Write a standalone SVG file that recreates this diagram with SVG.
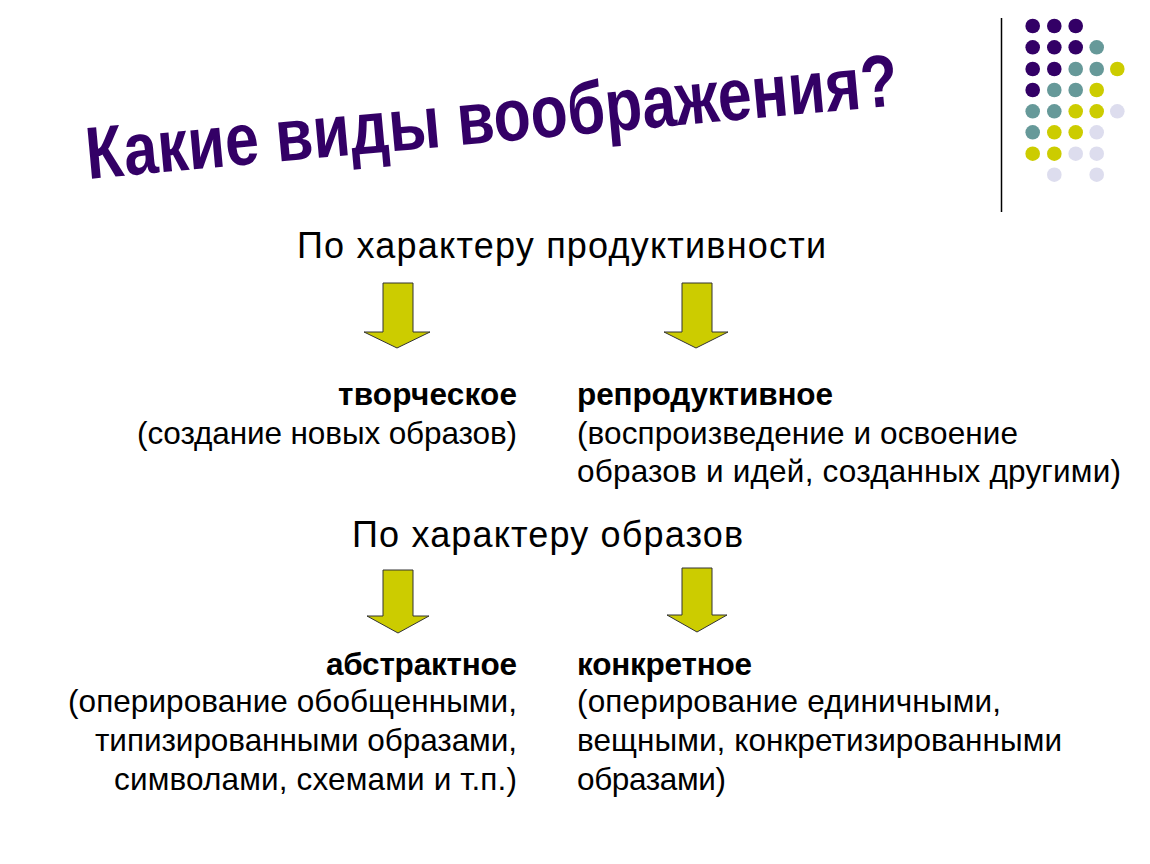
<svg xmlns="http://www.w3.org/2000/svg" width="1150" height="864" viewBox="0 0 1150 864">
<style>
.t{font-family:"Liberation Sans",Arial,sans-serif;fill:#000;font-size:31.5px}
.b{font-weight:bold}
.h{font-size:36px}
.arr{fill:#CCCC00;stroke:#333;stroke-width:1}
.p{fill:#330066}.g{fill:#669999}.y{fill:#CCCC00}.l{fill:#DDDDEE}
</style>
<rect width="1150" height="864" fill="#fff"/>
<g id="decor">
<line x1="1001.5" y1="18" x2="1001.5" y2="212" stroke="#000" stroke-width="1.5"/>
<g id="dots">
<circle class="p" cx="1032.7" cy="26" r="7.3"/><circle class="p" cx="1054.3" cy="26" r="7.3"/><circle class="p" cx="1075.7" cy="26" r="7.3"/>
<circle class="p" cx="1032.7" cy="47.3" r="7.3"/><circle class="p" cx="1054.3" cy="47.3" r="7.3"/><circle class="p" cx="1075.7" cy="47.3" r="7.3"/><circle class="g" cx="1096.7" cy="47.3" r="7.3"/>
<circle class="p" cx="1032.7" cy="69" r="7.3"/><circle class="p" cx="1054.3" cy="69" r="7.3"/><circle class="g" cx="1075.7" cy="69" r="7.3"/><circle class="g" cx="1096.7" cy="69" r="7.3"/><circle class="y" cx="1117.3" cy="69" r="7.3"/>
<circle class="p" cx="1032.7" cy="90" r="7.3"/><circle class="g" cx="1054.3" cy="90" r="7.3"/><circle class="g" cx="1075.7" cy="90" r="7.3"/><circle class="y" cx="1096.7" cy="90" r="7.3"/>
<circle class="g" cx="1032.7" cy="111.3" r="7.3"/><circle class="g" cx="1054.3" cy="111.3" r="7.3"/><circle class="y" cx="1075.7" cy="111.3" r="7.3"/><circle class="y" cx="1096.7" cy="111.3" r="7.3"/><circle class="l" cx="1117.3" cy="111.3" r="7.3"/>
<circle class="g" cx="1032.7" cy="132.3" r="7.3"/><circle class="y" cx="1054.3" cy="132.3" r="7.3"/><circle class="y" cx="1075.7" cy="132.3" r="7.3"/><circle class="l" cx="1096.7" cy="132.3" r="7.3"/>
<circle class="y" cx="1032.7" cy="153.7" r="7.3"/><circle class="y" cx="1054.3" cy="153.7" r="7.3"/><circle class="l" cx="1075.7" cy="153.7" r="7.3"/><circle class="l" cx="1096.7" cy="153.7" r="7.3"/>
<circle class="l" cx="1054.3" cy="174.7" r="7.3"/><circle class="l" cx="1096.7" cy="174.7" r="7.3"/>
</g>
</g>
<g id="title">
<text x="88" y="179" transform="rotate(-5.2 88 179)" font-family="Liberation Sans, Arial, sans-serif" font-weight="bold" font-size="74" fill="#330066" textLength="815" lengthAdjust="spacingAndGlyphs">Какие виды воображения?</text>
</g>
<g id="node-productivity">
<text class="t h" x="297" y="258" textLength="529" lengthAdjust="spacing">По характеру продуктивности</text>
</g>
<g id="connectors">
<path class="arr" d="M383 283 H413 V332 H430 L397 348 L364 332 H383 Z"/>
<path class="arr" d="M682 283 H712 V332 H728 L696 348 L664 332 H682 Z"/>
<path class="arr" d="M383 570 H413 V616 H429 L398 633 L367 616 H383 Z"/>
<path class="arr" d="M682 568 H712 V615 H727 L697 632 L667 615 H682 Z"/>
</g>
<g id="node-creative">
<text class="t b" x="338" y="405" textLength="179" lengthAdjust="spacing">творческое</text>
<text class="t" x="137" y="444" textLength="380" lengthAdjust="spacing">(создание новых образов)</text>
</g>
<g id="node-reproductive">
<text class="t b" x="577" y="405" textLength="256" lengthAdjust="spacing">репродуктивное</text>
<text class="t" x="577" y="444" textLength="441" lengthAdjust="spacing">(воспроизведение и освоение</text>
<text class="t" x="577" y="482" textLength="544" lengthAdjust="spacing">образов и идей, созданных другими)</text>
</g>
<g id="node-images">
<text class="t h" x="352" y="547" textLength="391" lengthAdjust="spacing">По характеру образов</text>
</g>
<g id="node-abstract">
<text class="t b" x="326" y="675" textLength="191" lengthAdjust="spacing">абстрактное</text>
<text class="t" x="68" y="712" textLength="449" lengthAdjust="spacing">(оперирование обобщенными,</text>
<text class="t" x="95" y="751" textLength="422" lengthAdjust="spacing">типизированными образами,</text>
<text class="t" x="114" y="790" textLength="403" lengthAdjust="spacing">символами, схемами и т.п.)</text>
</g>
<g id="node-concrete">
<text class="t b" x="577" y="675" textLength="175" lengthAdjust="spacing">конкретное</text>
<text class="t" x="577" y="712" textLength="424" lengthAdjust="spacing">(оперирование единичными,</text>
<text class="t" x="577" y="751" textLength="485" lengthAdjust="spacing">вещными, конкретизированными</text>
<text class="t" x="577" y="790" textLength="149" lengthAdjust="spacing">образами)</text>
</g>
</svg>
